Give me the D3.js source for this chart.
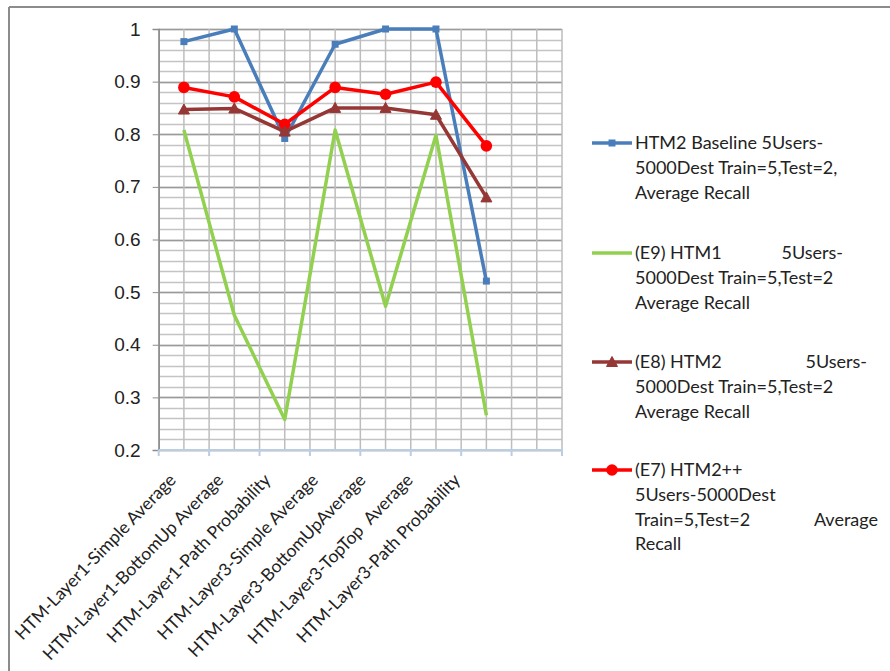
<!DOCTYPE html>
<html>
<head>
<meta charset="utf-8">
<title>HTM recall</title>
<style>
  body { margin: 0; background: #fff; }
  svg { font-family: Lato, "Open Sans", sans-serif; }
  .ylab { font-size: 19px; fill: #222; }
  .xlab { font-size: 17.5px; fill: #222; white-space: pre; }
  .leg { font-size: 18px; fill: #222; }
</style>
</head>
<body>
<div id="chart"></div>
<script src="https://d3js.org/d3.v7.min.js"></script>
<script>
var categories = [
  "HTM-Layer1-Simple Average",
  "HTM-Layer1-BottomUp Average",
  "HTM-Layer1-Path Probability",
  "HTM-Layer3-Simple Average",
  "HTM-Layer3-BottomUpAverage",
  "HTM-Layer3-TopTop  Average",
  "HTM-Layer3-Path Probability",
  ""
];

var baseline = [0.976, 1.0, 0.792, 0.971, 1.0, 1.0, 0.521];
var e9 = [0.808, 0.456, 0.258, 0.808, 0.473, 0.798, 0.266];
var e8 = [0.847, 0.849, 0.805, 0.850, 0.850, 0.837, 0.680];
var e7 = [0.889, 0.871, 0.819, 0.889, 0.876, 0.899, 0.778];

var yTicks = [0.2, 0.3, 0.4, 0.5, 0.6, 0.7, 0.8, 0.9, 1];

var legendBaseline = ["HTM2 Baseline 5Users-", "5000Dest Train=5,Test=2,", "Average Recall"];
var legendE9 = ["(E9) HTM1|5Users-", "5000Dest Train=5,Test=2", "Average Recall"];
var legendE8 = ["(E8) HTM2|5Users-", "5000Dest Train=5,Test=2", "Average Recall"];
var legendE7 = ["(E7) HTM2++", "5Users-5000Dest", "Train=5,Test=2|Average", "Recall"];

var series = [
  {values: baseline, legend: legendBaseline, color: "#4a7ebb", marker: "square", justify: 0},
  {values: e9, legend: legendE9, color: "#92d050", marker: "none", justify: 843},
  {values: e8, legend: legendE8, color: "#953735", marker: "triangle", justify: 867},
  {values: e7, legend: legendE7, color: "#ff0000", marker: "circle", justify: 878}
];
var drawOrder = [0, 1, 3, 2];

var W = 890, H = 671;
var plot = {left: 158.7, right: 562, top: 29, bottom: 450};

var svg = d3.select("#chart").append("svg")
  .attr("width", W).attr("height", H);

// frame from the page
svg.append("line").attr("x1", 9).attr("x2", W).attr("y1", 7).attr("y2", 7)
  .attr("stroke", "#8c8c8c").attr("stroke-width", 2);
svg.append("line").attr("x1", 9).attr("x2", 9).attr("y1", 7).attr("y2", H)
  .attr("stroke", "#8c8c8c").attr("stroke-width", 2);

var x = d3.scaleBand().domain(d3.range(categories.length))
  .range([plot.left, plot.right]).padding(0);
var cx = function(i) { return x(i) + x.bandwidth() / 2; };
var y = d3.scaleLinear().domain([0.2, 1]).range([plot.bottom, plot.top]);

// gridlines
var grid = svg.append("g");
var minor = d3.range(0.2, 1.0001, 0.02).map(function(v) { return Math.round(v * 100) / 100; });
grid.selectAll(".hmin").data(minor).enter().append("line")
  .attr("x1", plot.left).attr("x2", plot.right)
  .attr("y1", function(d) { return Math.round(y(d)) + 0.5; })
  .attr("y2", function(d) { return Math.round(y(d)) + 0.5; })
  .attr("stroke", "#c4c4c4").attr("stroke-width", 1.5);
grid.selectAll(".hmaj").data(yTicks).enter().append("line")
  .attr("x1", plot.left).attr("x2", plot.right)
  .attr("y1", function(d) { return Math.round(y(d)) + 0.5; })
  .attr("y2", function(d) { return Math.round(y(d)) + 0.5; })
  .attr("stroke", "#9a9a9a").attr("stroke-width", 1.5);
var vx = [];
categories.forEach(function(c, i) { vx.push(x(i)); vx.push(cx(i)); });
vx.push(plot.right);
grid.selectAll(".v").data(vx).enter().append("line")
  .attr("x1", function(d) { return d; }).attr("x2", function(d) { return d; })
  .attr("y1", plot.top).attr("y2", plot.bottom)
  .attr("stroke", "#bdbdbd").attr("stroke-width", 1.5);

// y axis
var yAxis = svg.append("g").attr("transform", "translate(" + plot.left + ",0)")
  .call(d3.axisLeft(y).tickValues(yTicks).tickSize(6).tickPadding(12)
    .tickFormat(function(d) { return d === 1 ? "1" : d3.format(".1f")(d); }));
yAxis.select(".domain").attr("stroke", "#8c8c8c").attr("stroke-width", 1.5);
yAxis.selectAll(".tick line").attr("stroke", "#8c8c8c");
yAxis.selectAll(".tick text").attr("class", "ylab").attr("font-family", null).attr("font-size", null);

// x axis
var xAxis = svg.append("g").attr("transform", "translate(0," + plot.bottom + ")");
xAxis.append("line").attr("x1", plot.left).attr("x2", plot.right)
  .attr("stroke", "#b9cde5").attr("stroke-width", 2);
xAxis.selectAll(".xt").data(vx.filter(function(d, i) { return i % 2 === 0; })).enter().append("line")
  .attr("x1", function(d) { return d; }).attr("x2", function(d) { return d; })
  .attr("y1", 0).attr("y2", 6).attr("stroke", "#b9cde5").attr("stroke-width", 2);
xAxis.selectAll(".xlab").data(categories).enter().append("text")
  .attr("class", "xlab")
  .attr("text-anchor", "end")
  .attr("transform", function(d, i) {
    return "translate(" + (cx(i) - 7 - i * 3) + ",31) rotate(-46)";
  })
  .text(function(d) { return d; });

// series
var line = d3.line().x(function(d, i) { return cx(i); }).y(function(d) { return y(d); });

function drawMarker(g, type, color, px, py) {
  if (type === "square") {
    g.append("rect").attr("x", px - 3.5).attr("y", py - 3.5).attr("width", 7).attr("height", 7)
      .attr("fill", color);
  } else if (type === "circle") {
    g.append("circle").attr("cx", px).attr("cy", py).attr("r", 5.8).attr("fill", color);
  } else if (type === "triangle") {
    g.append("path").attr("d", "M" + px + "," + (py - 5.5) + "L" + (px + 5.5) + "," + (py + 4.5) +
      "L" + (px - 5.5) + "," + (py + 4.5) + "Z")
      .attr("fill", color).attr("stroke", color).attr("stroke-width", 1);
  }
}

var sg = svg.append("g");
drawOrder.forEach(function(k) {
  var s = series[k];
  sg.append("path").datum(s.values).attr("d", line)
    .attr("fill", "none").attr("stroke", s.color).attr("stroke-width", 3.5)
    .attr("stroke-linejoin", "round");
  s.values.forEach(function(v, i) { drawMarker(sg, s.marker, s.color, cx(i), y(v)); });
});

// legend
var legTop = [143, 253, 362, 470];
var lg = svg.append("g");
series.forEach(function(s, k) {
  var ly = legTop[k];
  lg.append("line").attr("x1", 592).attr("x2", 632).attr("y1", ly).attr("y2", ly)
    .attr("stroke", s.color).attr("stroke-width", 3.5);
  drawMarker(lg, s.marker, s.color, 612, ly);
  s.legend.forEach(function(t, j) {
    var parts = t.split("|");
    var ty = ly + 6 + j * 24.8;
    lg.append("text").attr("class", "leg").attr("x", 635).attr("y", ty).text(parts[0]);
    if (parts.length > 1) {
      lg.append("text").attr("class", "leg").attr("x", s.justify).attr("y", ty)
        .attr("text-anchor", "end").text(parts[1]);
    }
  });
});
</script>
</body>
</html>
